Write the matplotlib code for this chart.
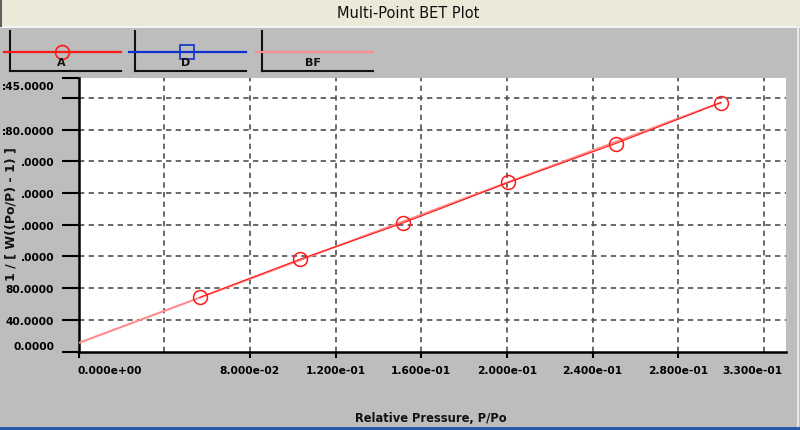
import matplotlib
matplotlib.use("Agg")
import matplotlib.pyplot as plt
from matplotlib.lines import Line2D
from matplotlib.patches import Rectangle
import matplotlib.transforms as mtransforms

# data
p_x = [0.0567, 0.1035, 0.1513, 0.2006, 0.2507, 0.2998]
p_y = [68.3, 116.5, 161.9, 213.2, 262.3, 314.0]
bf_x = [0.0, 0.2998]
bf_y = [10.7, 314.0]

x_min, x_max = 0.0, 0.33
y_min, y_max = 0.0, 345.0
xtick_vals = [0.0, 0.08, 0.12, 0.16, 0.20, 0.24, 0.28]
xgrid_vals = [0.04, 0.08, 0.12, 0.16, 0.20, 0.24, 0.28, 0.32]
ytick_vals = [0, 40, 80, 120, 160, 200, 240, 280, 320, 345]
ytick_labels = ["0.0000", "40.0000", "80.0000", ".0000", ".0000", ".0000",
                ".0000", ":80.0000", "", ":45.0000"]
ygrid_vals = [40, 80, 120, 160, 200, 240, 280, 320]

series_names = ["A", "D", "BF"]
series_colors = ["#ff1a1a", "#1030d0", "#ff8c8c"]
series_markers = ["o", "s", None]

W, H = 800, 431
GRAY = "#bdbdbd"
tick_font = dict(family="DejaVu Sans", weight="bold", size=7.7)


def fx(x):
    return x / W


def fy(y):
    return 1 - y / H


fig = plt.figure(figsize=(W / 100, H / 100), dpi=100, facecolor=GRAY)

# window chrome
fig.add_artist(Rectangle((0, fy(27)), 1, 27 / H, transform=fig.transFigure,
                         facecolor="#ece9d8", edgecolor="none"))
fig.add_artist(Line2D([0, 1], [fy(27.5), fy(27.5)], color="white", lw=1.2))
fig.add_artist(Line2D([fx(1), fx(1)], [fy(0), fy(27)], color="#606060", lw=1.5))
fig.add_artist(Line2D([fx(798), fx(798)], [fy(28), fy(427)], color="#e8e8e8", lw=1.5))
fig.add_artist(Rectangle((0, 0), 1, 3 / H, transform=fig.transFigure,
                         facecolor="#2a5caa", edgecolor="none"))
fig.text(fx(408), fy(14), "Multi-Point BET Plot", ha="center", va="center",
         fontsize=10.5, family="DejaVu Sans", color="#101010")

# legend cells
cell_left = [10, 135, 262]
for i, name in enumerate(series_names):
    x0 = cell_left[i]
    fig.add_artist(Line2D([fx(x0), fx(x0)], [fy(32), fy(72)], color="#111111", lw=1.5))
    fig.add_artist(Line2D([fx(x0), fx(x0 + 111)], [fy(72), fy(72)], color="#111111", lw=1.5))
    fig.add_artist(Line2D([fx(x0 - 6), fx(x0 + 111)], [fy(52.7), fy(52.7)],
                          color=series_colors[i], lw=1.6))
    if series_markers[i]:
        fig.add_artist(Line2D([fx(x0 + 52)], [fy(52.5)], marker=series_markers[i],
                              ms=10, mfc="none", mec=series_colors[i], mew=1.2))
    fig.text(fx(x0 + 51), fy(63), name, ha="center", va="center",
             fontsize=8, weight="bold", family="DejaVu Sans", color="#111111")

# plot area
ax = fig.add_axes([fx(78.5), fy(352.5), (785.5 - 78.5) / W, (352.5 - 79) / H])
ax.set_facecolor("white")
ax.set_xlim(x_min, x_max)
ax.set_ylim(y_min, y_max)
for s in ["top", "right"]:
    ax.spines[s].set_visible(False)
for s in ["left", "bottom"]:
    ax.spines[s].set_linewidth(1.8)
    ax.spines[s].set_color("black")

ax.xaxis.remove_overlapping_locs = False
ax.yaxis.remove_overlapping_locs = False
ax.set_xticks(xtick_vals)
ax.set_xticklabels(["%.3e" % v for v in xtick_vals], **tick_font)
ax.set_yticks(ytick_vals)
ax.set_yticklabels(ytick_labels, **tick_font)
ax.set_xticks(xgrid_vals, minor=True)
ax.set_yticks(ygrid_vals, minor=True)
ax.tick_params(axis="x", which="major", direction="out", length=4, width=1.5, pad=6)
ax.tick_params(axis="y", which="major", direction="out", length=12.5, width=1.5, pad=5)
ax.tick_params(which="minor", length=0)
ax.grid(which="minor", color="#505050", linestyle=(0, (3.2, 2.6)), lw=1.2)
ax.grid(which="major", visible=False)

# right-most x label squeezed inside the frame
trans = mtransforms.blended_transform_factory(ax.transData, ax.transAxes)
ax.text(x_max, 0, "%.3e" % x_max, ha="right", va="top",
        transform=trans + mtransforms.ScaledTranslation(-2 / 72, -10 / 72, fig.dpi_scale_trans),
        **tick_font)

ax.plot(bf_x, bf_y, color=series_colors[2], lw=1.5, zorder=3)
ax.plot(p_x, p_y, color=series_colors[0], lw=0.8, marker="o", ms=10,
        mfc="none", mec=series_colors[0], mew=1.1, zorder=4)

fig.text(fx(431), fy(419), "Relative Pressure, P/Po", ha="center", va="center",
         fontsize=8.3, weight="bold", family="DejaVu Sans", color="#111111")
fig.text(fx(11), fy(214), "1 / [ W((Po/P) - 1) ]", ha="center", va="center",
         rotation=90, fontsize=9, weight="bold", family="DejaVu Sans", color="#111111")

# end labels are kept inside the axis frame, as in the original software
xt = ax.xaxis.get_major_ticks()
xt[0].label1.set_horizontalalignment("left")
xt[0].label1.set_transform(xt[0].label1.get_transform() +
                           mtransforms.ScaledTranslation(-1 / 72, 0, fig.dpi_scale_trans))
yt = ax.yaxis.get_major_ticks()
yt[0].label1.set_transform(yt[0].label1.get_transform() +
                           mtransforms.ScaledTranslation(0, 4.5 / 72, fig.dpi_scale_trans))
yt[-1].label1.set_transform(yt[-1].label1.get_transform() +
                            mtransforms.ScaledTranslation(0, -5 / 72, fig.dpi_scale_trans))

fig.savefig("out.png", dpi=100, facecolor=GRAY)
